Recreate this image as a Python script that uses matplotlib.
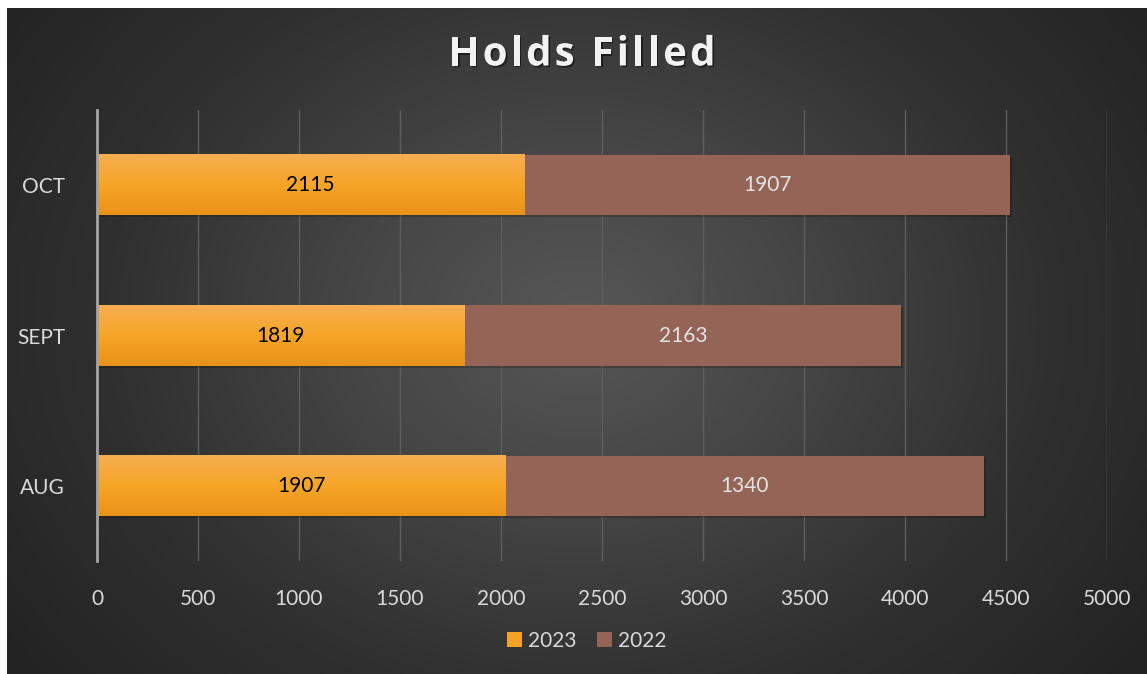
import numpy as np
import matplotlib
matplotlib.use("Agg")
import matplotlib.pyplot as plt
import matplotlib.patheffects as pe
from matplotlib.patches import Patch
from matplotlib.colors import LinearSegmentedColormap

# ---- data ----
categories = ["AUG", "SEPT", "OCT"]
series_names = ["2023", "2022"]
values_2023 = [2020, 1819, 2115]          # bar lengths
values_2022 = [2370, 2163, 2405]
labels_2023 = ["1907", "1819", "2115"]    # data labels as printed
labels_2022 = ["1340", "2163", "1907"]
x_ticks = [0, 500, 1000, 1500, 2000, 2500, 3000, 3500, 4000, 4500, 5000]
title = "Holds Filled"

plt.rcParams['font.family'] = ['Lato', 'DejaVu Sans']

W, H = 1147, 674
fig = plt.figure(figsize=(W / 100, H / 100), dpi=100, facecolor="white")

# ---- background radial gradient ----
bg = fig.add_axes([7 / W, 0, 1 - 7 / W, 1 - 8 / H], zorder=0)
bg.set_axis_off()
ny, nx = 300, 500
yy, xx = np.mgrid[0:ny, 0:nx]
cx, cy = nx * 0.50, ny * 0.47
r = np.sqrt(((xx - cx) / (nx * 0.62)) ** 2 + ((yy - cy) / (ny * 0.85)) ** 2)
r = np.clip(r, 0, 1)
bg_cmap = LinearSegmentedColormap.from_list("bg", ["#575757", "#454545", "#303030", "#232323"])
bg.imshow(r, cmap=bg_cmap, aspect="auto", extent=[0, 1, 0, 1], vmin=0, vmax=1)
bg.set_xlim(0, 1)
bg.set_ylim(0, 1)

# ---- main axes ----
ax = fig.add_axes([97 / W, (H - 561) / H, (1107 - 97) / W, (561 - 110) / H], zorder=1)
ax.patch.set_alpha(0)

y = np.arange(len(categories))
shadow = [pe.SimplePatchShadow(offset=(1.5, -1.5), shadow_rgbFace="black", alpha=0.2), pe.Normal()]
b1 = ax.barh(y, values_2023, height=0.4, color="#F5A324", zorder=3, path_effects=shadow)
b2 = ax.barh(y, values_2022, left=values_2023, height=0.4, color="#946456", zorder=3,
             path_effects=shadow)

# orange vertical gradient over each 2023 bar
grad_cmap = LinearSegmentedColormap.from_list("or", ["#E8921A", "#F6A526", "#F5AE52"])
grad = np.linspace(0, 1, 100).reshape(-1, 1)
for p in b1.patches:
    x0, y0, w, h = p.get_x(), p.get_y(), p.get_width(), p.get_height()
    ax.imshow(grad, cmap=grad_cmap, aspect="auto", origin="lower",
              extent=[x0, x0 + w, y0, y0 + h], zorder=3.5)

for p, lab in zip(b1.patches, labels_2023):
    ax.text(p.get_x() + p.get_width() / 2, p.get_y() + p.get_height() / 2, lab,
            ha="center", va="center", fontsize=15, color="black", zorder=5)
for p, lab in zip(b2.patches, labels_2022):
    ax.text(p.get_x() + p.get_width() / 2, p.get_y() + p.get_height() / 2, lab,
            ha="center", va="center", fontsize=15, color="#E3E3E3", zorder=5)

ax.set_xlim(0, 5000)
ax.set_ylim(-0.5, 2.5)
ax.set_xticks(x_ticks)
ax.set_xticklabels([str(t) for t in x_ticks])
ax.set_yticks(y)
ax.set_yticklabels(categories)
ax.tick_params(axis="both", length=0, labelsize=15, labelcolor="#D9D9D9")
ax.tick_params(axis="x", pad=20)
ax.tick_params(axis="y", pad=23)
ax.grid(axis="x", color="#5E5E5E", linewidth=1.0, zorder=1)
ax.set_axisbelow(True)
for s in ["top", "right", "bottom"]:
    ax.spines[s].set_visible(False)
ax.spines["left"].set_color("#A5A5A5")
ax.spines["left"].set_linewidth(2)
ax.spines["left"].set_zorder(4)

# ---- title (letter-spaced) ----
renderer = fig.canvas.get_renderer()
tkw = dict(fontsize=29, fontweight="bold", color="#F2F2F2", family=["Open Sans", "DejaVu Sans"],
           va="center", ha="left",
           path_effects=[pe.withSimplePatchShadow(offset=(1.2, -1.2), shadow_rgbFace="black", alpha=0.5)])
spacing = 3.2
widths = []
for ch in title:
    if ch == " ":
        t = fig.text(0, 0, "a a", fontsize=29, fontweight="bold", family=["Open Sans", "DejaVu Sans"])
        t2 = fig.text(0, 0, "aa", fontsize=29, fontweight="bold", family=["Open Sans", "DejaVu Sans"])
        wdt = t.get_window_extent(renderer).width - t2.get_window_extent(renderer).width
        t.remove(); t2.remove()
    else:
        t = fig.text(0, 0, ch, fontsize=29, fontweight="bold", family=["Open Sans", "DejaVu Sans"])
        wdt = t.get_window_extent(renderer).width
        t.remove()
    widths.append(wdt)
total = sum(widths) + spacing * (len(title) - 1)
xpos = 582 - total / 2
for ch, wdt in zip(title, widths):
    if ch != " ":
        fig.text(xpos / W, 1 - 55 / H, ch, **tkw)
    xpos += wdt + spacing

# ---- legend ----
handles = [Patch(facecolor="#F5A324", label=series_names[0]),
           Patch(facecolor="#946456", label=series_names[1])]
fig.legend(handles=handles, loc="center", bbox_to_anchor=(587 / W, 1 - 641 / H), ncol=2,
           frameon=False, fontsize=15, labelcolor="#D9D9D9", handlelength=0.7,
           handleheight=0.7, handletextpad=0.3, columnspacing=1.0)

fig.savefig("out.png", dpi=100, facecolor="white")
